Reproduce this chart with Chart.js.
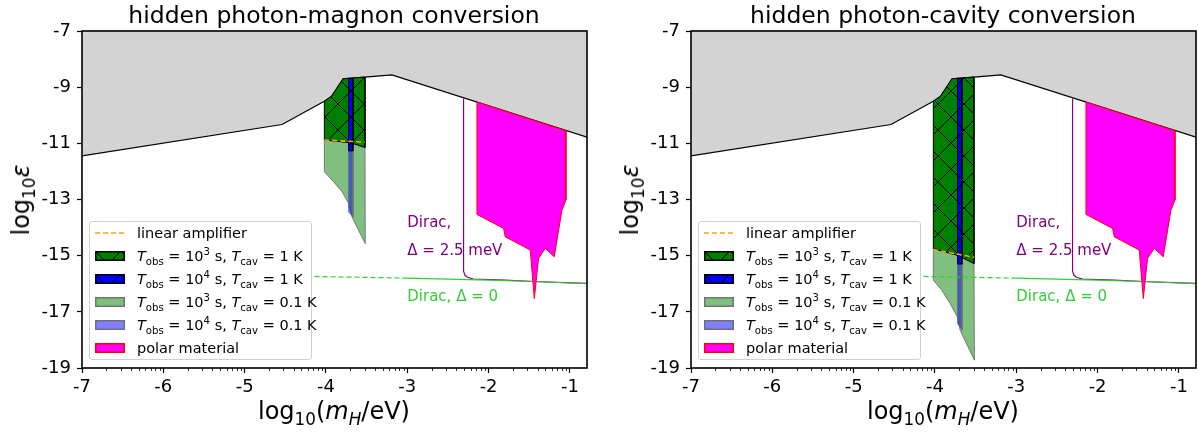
<!DOCTYPE html>
<html lang="en">
<head>
<meta charset="UTF-8">
<title>hidden photon conversion</title>
<script src="https://cdn.jsdelivr.net/npm/chart.js"></script>
<style>
  body { margin: 0; background: #fff; font-family: 'DejaVu Sans', sans-serif; color: #000; }
  #wrap { position: relative; width: 1198px; height: 434px; overflow: hidden; }
  canvas.chart { position: absolute; top: 0; }
  .title { position: absolute; top: 0px; font-size: 23.5px; line-height: 30px; transform: translateX(-50%); white-space: nowrap; }
  .xlabel { position: absolute; top: 395px; font-size: 24px; line-height: 32px; transform: translateX(-50%); white-space: nowrap; }
  .ylabel { position: absolute; top: 200px; font-size: 24px; line-height: 32px; transform: translate(-50%, -50%) rotate(-90deg); white-space: nowrap; }
  sub, sup { font-size: 70%; line-height: 0; }
  .legend { position: absolute; top: 221px; width: 223px; height: 139px; box-sizing: border-box;
            border: 1px solid #d0d0d0; border-radius: 3px; background: rgba(255,255,255,0.8); }
  .legend .row { position: absolute; left: 0; height: 20px; width: 100%; }
  .legend canvas { position: absolute; left: 5px; top: 5px; }
  .legend span { position: absolute; left: 47px; top: 0; font-size: 14.5px; line-height: 20px; white-space: nowrap; }
</style>
</head>
<body>
<div id="wrap">
  <canvas id="magnonChart" class="chart" width="600" height="434" style="left:0"></canvas>
  <canvas id="cavityChart" class="chart" width="598" height="434" style="left:600px"></canvas>

  <div class="title" style="left:334px">hidden photon-magnon conversion</div>
  <div class="title" style="left:943px">hidden photon-cavity conversion</div>
  <div class="xlabel" style="left:334px">log<sub>10</sub>(<i>m</i><sub><i>H</i></sub>/eV)</div>
  <div class="xlabel" style="left:943px">log<sub>10</sub>(<i>m</i><sub><i>H</i></sub>/eV)</div>
  <div class="ylabel" style="left:21px">log<sub>10</sub><i>ε</i></div>
  <div class="ylabel" style="left:630px">log<sub>10</sub><i>ε</i></div>

  <div class="legend" id="magnonLegend" style="left:89px"></div>
  <div class="legend" id="cavityLegend" style="left:698px"></div>
</div>

<script>
// axis ticks
const xTicks = [-7, -6, -5, -4, -3, -2, -1];
const yTicks = [-19, -17, -15, -13, -11, -9, -7];

// existing exclusion limit (lower edge of the grey area)
const exclusionEdge = [[-7, -11.45], [-4.54, -10.33], [-4.02, -9.50], [-3.93, -9.32], [-3.79, -8.70],
                       [-3.52, -8.64], [-3.19, -8.56], [-0.79, -10.78]];

// polar material reach
const polarMaterial = [[-2.143, -9.53], [-1.049, -10.55], [-1.049, -13.02], [-1.098, -13.38], [-1.193, -15.04],
                       [-1.303, -14.74], [-1.386, -15.10], [-1.438, -16.53], [-1.488, -14.80], [-1.795, -14.33],
                       [-1.816, -14.03], [-2.143, -13.53]];

// Dirac material curves
const diracGap = [[-2.308, -9.40], [-2.308, -15.55], [-2.29, -15.70], [-2.26, -15.77], [-2.19, -15.83],
                  [-1.8, -15.87], [-1.44, -15.92], [-0.79, -15.99]];
const diracZeroDashed = [[-4.14, -15.74], [-3.0, -15.80]];
const diracZero = [[-3.0, -15.80], [-2.0, -15.87], [-1.44, -15.92], [-0.79, -16.0]];

// hidden photon-magnon conversion
const magnonT3K1 = [[-4.02, -9.50], [-3.93, -9.32], [-3.79, -8.70], [-3.52, -8.64], [-3.52, -11.15],
                    [-3.67, -11.0], [-3.72, -10.97], [-4.02, -10.88]];
const magnonT4K1 = [[-3.722, -8.69], [-3.668, -8.69], [-3.668, -11.27], [-3.722, -11.27]];
const magnonT3K01 = [[-4.02, -10.88], [-3.72, -10.97], [-3.52, -11.15], [-3.517, -14.57], [-3.68, -13.62],
                     [-3.72, -13.14], [-3.80, -12.73], [-3.906, -12.37], [-4.02, -12.01]];
const magnonT4K01 = [[-3.722, -11.27], [-3.668, -11.27], [-3.668, -13.62], [-3.722, -13.44]];
const magnonAmp = [[-4.02, -10.88], [-3.52, -10.96]];

// hidden photon-cavity conversion
const cavityT3K1 = [[-4.02, -9.50], [-3.93, -9.32], [-3.79, -8.70], [-3.52, -8.64], [-3.52, -15.28],
                    [-3.72, -14.99], [-4.02, -14.75]];
const cavityT4K1 = [[-3.722, -8.69], [-3.668, -8.69], [-3.668, -15.30], [-3.722, -15.30]];
const cavityT3K01 = [[-4.02, -14.75], [-3.72, -14.99], [-3.52, -15.28], [-3.515, -18.72], [-3.69, -17.66],
                     [-3.724, -17.18], [-3.814, -16.70], [-3.916, -16.23], [-4.02, -15.87]];
const cavityT4K01 = [[-3.722, -15.30], [-3.668, -15.30], [-3.668, -17.66], [-3.722, -17.41]];
const cavityAmp = [[-4.02, -14.78], [-3.52, -15.06]];

// text notes inside the plot
const noteTexts = ['Dirac,', 'Δ = 2.5 meV', 'Dirac, Δ = 0'];
const noteX = [-3.0, -3.0, -3.0];
const noteY = [-13.84, -14.84, -16.48];
const noteColors = ['#800080', '#800080', '#32cd32'];

const legendLabels = [
  'linear amplifier',
  '<i>T</i><sub>obs</sub> = 10<sup>3</sup> s, <i>T</i><sub>cav</sub> = 1 K',
  '<i>T</i><sub>obs</sub> = 10<sup>4</sup> s, <i>T</i><sub>cav</sub> = 1 K',
  '<i>T</i><sub>obs</sub> = 10<sup>3</sup> s, <i>T</i><sub>cav</sub> = 0.1 K',
  '<i>T</i><sub>obs</sub> = 10<sup>4</sup> s, <i>T</i><sub>cav</sub> = 0.1 K',
  'polar material'
];

function hatch(fill, size) {
  const c = document.createElement('canvas');
  c.width = c.height = size;
  const g = c.getContext('2d');
  g.fillStyle = fill;
  g.fillRect(0, 0, size, size);
  g.strokeStyle = '#000';
  g.lineWidth = 1;
  g.beginPath();
  g.moveTo(0, 0); g.lineTo(size, size);
  g.moveTo(size, 0); g.lineTo(0, size);
  g.stroke();
  return g.createPattern(c, 'repeat');
}

const greenHatch = hatch('#008000', 26);
const blueHatch = hatch('#0000ff', 26);

const styles = {
  amp:   { line: '#ffa500' },
  t3k1:  { fill: greenHatch, edge: '#000' },
  t4k1:  { fill: blueHatch, edge: '#000' },
  t3k01: { fill: 'rgba(0,128,0,0.5)', edge: 'rgba(110,110,110,0.9)' },
  t4k01: { fill: 'rgba(0,0,255,0.5)', edge: 'rgba(110,110,110,0.9)' },
  polar: { fill: '#ff00ff', edge: '#ff0000' }
};
const legendKeys = ['amp', 't3k1', 't4k1', 't3k01', 't4k01', 'polar'];

const pts = arr => arr.map(([x, y]) => ({ x, y }));

function area(arr, fill, edge, order, width) {
  return {
    data: pts(arr.concat([arr[0]])),
    fill: 'shape', backgroundColor: fill, borderColor: edge, borderWidth: width || 1,
    pointRadius: 0, tension: 0, order
  };
}
function line(arr, color, order, width, dash) {
  return {
    data: pts(arr), fill: false, borderColor: color, borderWidth: width,
    borderDash: dash || [], pointRadius: 0, tension: 0, order
  };
}

function buildDatasets(t3k1, t4k1, t3k01, t4k01, amp) {
  const grey = [[-7, -7]].concat(exclusionEdge, [[-0.79, -7]]);
  return [
    area(grey, '#d3d3d3', 'rgba(0,0,0,0)', 20),
    line(exclusionEdge, '#000', 19, 1.2),
    area(t3k01, styles.t3k01.fill, styles.t3k01.edge, 18),
    area(t4k01, styles.t4k01.fill, styles.t4k01.edge, 17),
    area(t3k1, styles.t3k1.fill, styles.t3k1.edge, 16),
    area(t4k1, styles.t4k1.fill, styles.t4k1.edge, 15),
    line(amp, styles.amp.line, 14, 1.6, [5, 3]),
    line(diracGap, '#800080', 13, 1.2),
    line(diracZeroDashed, '#32cd32', 12, 1.2, [5, 3]),
    line(diracZero, '#32cd32', 11, 1.2),
    area(polarMaterial, styles.polar.fill, styles.polar.edge, 10)
  ];
}

const extras = {
  id: 'extras',
  afterDatasetsDraw(chart) {
    const { ctx, chartArea: a, scales: { x, y } } = chart;
    ctx.save();
    ctx.font = '15px "DejaVu Sans"';
    ctx.textBaseline = 'middle';
    ctx.textAlign = 'left';
    noteTexts.forEach((t, i) => {
      ctx.fillStyle = noteColors[i];
      ctx.fillText(t, x.getPixelForValue(noteX[i]), y.getPixelForValue(noteY[i]));
    });
    // minor log ticks on the x axis
    ctx.strokeStyle = '#000';
    ctx.lineWidth = 0.8;
    ctx.beginPath();
    xTicks.forEach(n => {
      for (let k = 2; k <= 9; k++) {
        const v = n + Math.log10(k);
        if (v > x.max) continue;
        const px = Math.round(x.getPixelForValue(v)) + 0.5;
        ctx.moveTo(px, a.bottom);
        ctx.lineTo(px, a.bottom + 3);
      }
    });
    ctx.stroke();
    // frame
    ctx.lineWidth = 1.6;
    ctx.strokeRect(a.left, a.top, a.right - a.left, a.bottom - a.top);
    ctx.restore();
  }
};

function makeChart(id, yWidth, padRight, datasets) {
  return new Chart(document.getElementById(id), {
    type: 'line',
    data: { datasets },
    plugins: [extras],
    options: {
      responsive: false,
      animation: false,
      events: [],
      layout: { padding: { top: 31, right: padRight, left: 0, bottom: 0 } },
      plugins: { legend: { display: false }, tooltip: { enabled: false } },
      scales: {
        x: {
          type: 'linear', min: -7, max: -0.79,
          afterFit(s) { s.height = 66; },
          afterBuildTicks(s) { s.ticks = xTicks.map(v => ({ value: v })); },
          border: { display: false },
          grid: { drawOnChartArea: false, tickLength: 5, tickColor: '#000', tickWidth: 1.2 },
          ticks: { color: '#000', padding: 4, maxRotation: 0, font: { family: 'DejaVu Sans', size: 18 },
                   callback: v => String(v) }
        },
        y: {
          type: 'linear', min: -19, max: -7,
          afterFit(s) { s.width = yWidth; },
          afterBuildTicks(s) { s.ticks = yTicks.map(v => ({ value: v })); },
          border: { display: false },
          grid: { drawOnChartArea: false, tickLength: 5, tickColor: '#000', tickWidth: 1.2 },
          ticks: { color: '#000', padding: 6, font: { family: 'DejaVu Sans', size: 18 },
                   callback: v => String(v) }
        }
      }
    }
  });
}

makeChart('magnonChart', 82, 13, buildDatasets(magnonT3K1, magnonT4K1, magnonT3K01, magnonT4K01, magnonAmp));
makeChart('cavityChart', 91, 2, buildDatasets(cavityT3K1, cavityT4K1, cavityT3K01, cavityT4K01, cavityAmp));

// legends
const rowCenters = [11, 34, 57, 80, 103, 126];
function buildLegend(id) {
  const box = document.getElementById(id);
  legendKeys.forEach((key, i) => {
    const row = document.createElement('div');
    row.className = 'row';
    row.style.top = (rowCenters[i] - 10) + 'px';
    const icon = document.createElement('canvas');
    icon.width = 30; icon.height = 10;
    const g = icon.getContext('2d');
    const st = styles[key];
    if (st.line) {
      g.strokeStyle = st.line; g.lineWidth = 1.6; g.setLineDash([5, 3]);
      g.beginPath(); g.moveTo(0, 5); g.lineTo(30, 5); g.stroke();
    } else {
      g.fillStyle = st.fill; g.fillRect(0, 0, 30, 10);
      g.strokeStyle = st.edge; g.lineWidth = 1.5; g.strokeRect(0.75, 0.75, 28.5, 8.5);
    }
    const label = document.createElement('span');
    label.innerHTML = legendLabels[i];
    row.appendChild(icon);
    row.appendChild(label);
    box.appendChild(row);
  });
}
buildLegend('magnonLegend');
buildLegend('cavityLegend');
</script>
</body>
</html>
